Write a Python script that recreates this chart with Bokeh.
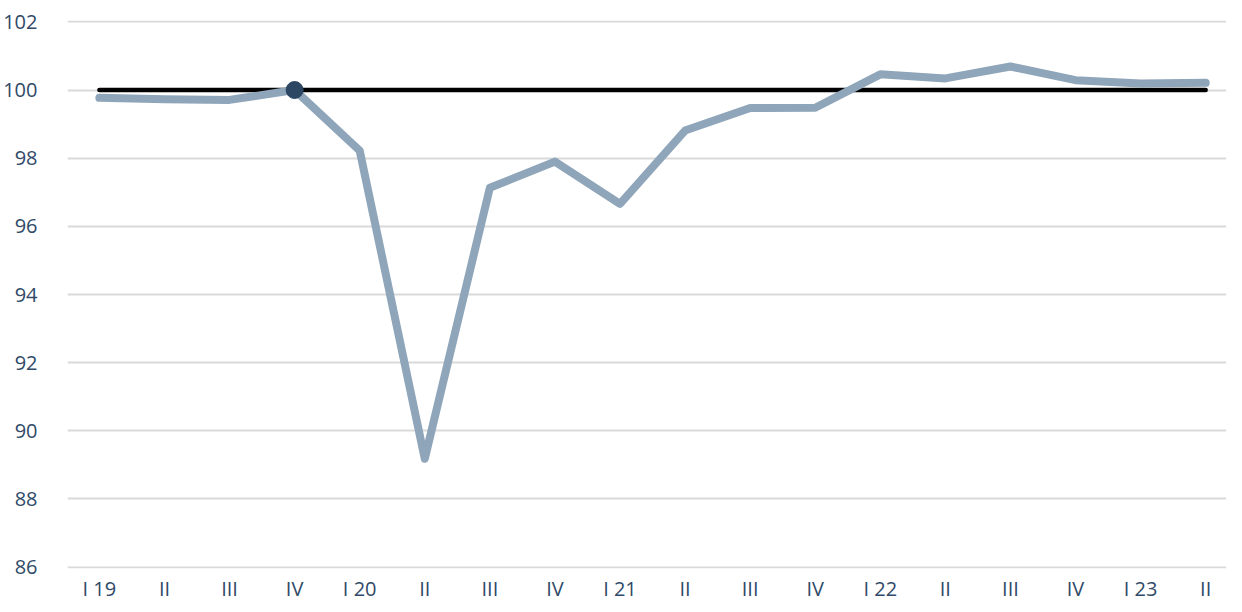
from bokeh.plotting import figure
from bokeh.models import FixedTicker, Range1d
from bokeh.embed import file_html
from bokeh.resources import INLINE

quarters = ["I 19", "II", "III", "IV", "I 20", "II", "III", "IV", "I 21", "II", "III", "IV",
            "I 22", "II", "III", "IV", "I 23", "II"]
index_values = [99.77, 99.73, 99.71, 100.0, 98.22, 89.18, 97.13, 97.90, 96.66, 98.81, 99.47, 99.48,
                100.46, 100.34, 100.69, 100.29, 100.19, 100.21]
baseline = [100.0] * len(quarters)
marker_quarter = [3]
marker_value = [100.0]
y_ticks = [86, 88, 90, 92, 94, 96, 98, 100, 102]

x = list(range(len(quarters)))

p = figure(width=1226, height=604, output_backend="svg", toolbar_location=None,
           x_range=Range1d(-0.49, 17.32), y_range=Range1d(85.96, 102.04),
           min_border_left=58, min_border_top=20, min_border_right=0, min_border_bottom=26)
p.outline_line_color = None
p.background_fill_color = "white"
p.border_fill_color = "white"

p.line(x, baseline, line_color="black", line_width=4.5, line_cap="round")
p.line(x, index_values, line_color="#8fa5b9", line_width=8, line_cap="round", line_join="round")
p.scatter(marker_quarter, marker_value, size=17, fill_color="#2c4763", line_color="#2c4763")

p.xaxis.ticker = FixedTicker(ticks=x)
p.xaxis.major_label_overrides = {i: q for i, q in enumerate(quarters)}
p.yaxis.ticker = FixedTicker(ticks=y_ticks)

for ax in (p.xaxis[0], p.yaxis[0]):
    ax.axis_line_color = None
    ax.major_tick_line_color = None
    ax.minor_tick_line_color = None
    ax.major_label_text_font = "Open Sans"
    ax.major_label_text_font_size = "20px"
    ax.major_label_text_color = "#2f4a68"
p.yaxis.major_label_standoff = 24
p.xaxis.major_label_standoff = 0

p.xgrid.grid_line_color = None
p.ygrid.grid_line_color = "#d9d9d9"
p.ygrid.grid_line_width = 2

open("out.html", "w").write(file_html(p, INLINE))
